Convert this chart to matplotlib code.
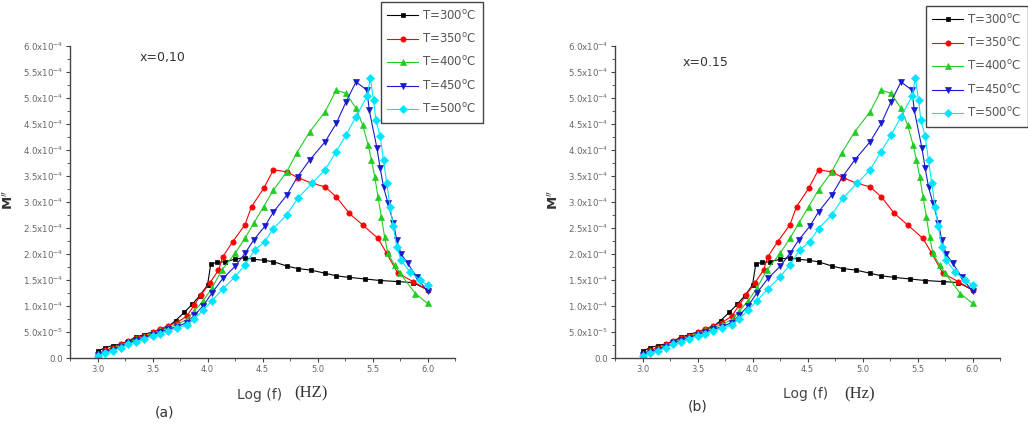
import matplotlib
matplotlib.use('Agg')
import matplotlib.pyplot as plt
from matplotlib.ticker import MultipleLocator, FuncFormatter
import numpy as np

# log(f) positions and M'' values (units of 1e-4)
x300 = [3.0, 3.07, 3.14, 3.21, 3.28, 3.35, 3.42, 3.5, 3.57, 3.64, 3.71, 3.79, 3.86, 3.93, 4.0,
        4.03, 4.09, 4.16, 4.25, 4.34, 4.41, 4.51, 4.6, 4.72, 4.82, 4.94, 5.07, 5.17, 5.29, 5.43,
        5.57, 5.73, 5.87, 6.0]
m300 = [0.13, 0.2, 0.24, 0.27, 0.33, 0.4, 0.45, 0.5, 0.54, 0.6, 0.72, 0.88, 1.03, 1.2, 1.4,
        1.81, 1.84, 1.85, 1.9, 1.93, 1.9, 1.88, 1.85, 1.77, 1.72, 1.69, 1.63, 1.58, 1.55, 1.52,
        1.49, 1.47, 1.45, 1.31]

x350 = [3.0, 3.07, 3.14, 3.21, 3.28, 3.35, 3.42, 3.5, 3.57, 3.64, 3.72, 3.81, 3.88, 3.94, 4.02,
        4.1, 4.14, 4.23, 4.34, 4.4, 4.51, 4.6, 4.72, 4.82, 4.95, 5.07, 5.17, 5.29, 5.41, 5.55,
        5.63, 5.73, 5.87, 6.0]
m350 = [0.08, 0.15, 0.2, 0.26, 0.32, 0.38, 0.43, 0.5, 0.56, 0.62, 0.68, 0.8, 1.02, 1.21, 1.44,
        1.69, 1.95, 2.24, 2.56, 2.91, 3.26, 3.62, 3.58, 3.47, 3.36, 3.29, 3.1, 2.78, 2.56, 2.3,
        2.01, 1.63, 1.47, 1.31]

x400 = [3.0, 3.07, 3.14, 3.21, 3.28, 3.35, 3.42, 3.5, 3.57, 3.64, 3.72, 3.81, 3.88, 3.96, 4.04,
        4.13, 4.25, 4.34, 4.42, 4.51, 4.6, 4.72, 4.81, 4.93, 5.07, 5.17, 5.26, 5.35, 5.41, 5.46,
        5.49, 5.52, 5.55, 5.58, 5.61, 5.64, 5.7, 5.75, 5.89, 6.0]
m400 = [0.07, 0.13, 0.18, 0.24, 0.3, 0.36, 0.41, 0.47, 0.53, 0.58, 0.64, 0.74, 0.9, 1.1, 1.34,
        1.69, 2.01, 2.3, 2.59, 2.91, 3.23, 3.58, 3.94, 4.35, 4.74, 5.15, 5.09, 4.8, 4.48, 4.1,
        3.81, 3.49, 3.1, 2.72, 2.33, 2.01, 1.79, 1.63, 1.24, 1.05]

x450 = [3.0, 3.07, 3.14, 3.21, 3.28, 3.35, 3.42, 3.5, 3.57, 3.64, 3.72, 3.81, 3.88, 3.96, 4.04,
        4.14, 4.25, 4.34, 4.42, 4.52, 4.6, 4.72, 4.82, 4.93, 5.07, 5.17, 5.26, 5.35, 5.45, 5.47,
        5.54, 5.57, 5.6, 5.64, 5.69, 5.72, 5.76, 5.82, 5.9, 6.0]
m450 = [0.06, 0.11, 0.16, 0.22, 0.28, 0.34, 0.39, 0.45, 0.5, 0.55, 0.6, 0.68, 0.82, 1.0, 1.25,
        1.53, 1.76, 2.01, 2.27, 2.53, 2.81, 3.13, 3.49, 3.81, 4.16, 4.51, 4.93, 5.31, 5.15, 4.77,
        4.04, 3.65, 3.29, 2.98, 2.6, 2.27, 2.0, 1.82, 1.56, 1.28]

x500 = [3.0, 3.07, 3.14, 3.21, 3.28, 3.35, 3.42, 3.5, 3.57, 3.64, 3.72, 3.81, 3.88, 3.96, 4.04,
        4.14, 4.25, 4.34, 4.43, 4.52, 4.6, 4.72, 4.82, 4.95, 5.07, 5.17, 5.26, 5.35, 5.45, 5.48,
        5.51, 5.53, 5.57, 5.6, 5.63, 5.66, 5.69, 5.72, 5.76, 5.84, 5.93, 6.0]
m500 = [0.04, 0.09, 0.14, 0.2, 0.26, 0.31, 0.36, 0.42, 0.47, 0.52, 0.57, 0.64, 0.75, 0.92, 1.1,
        1.33, 1.56, 1.79, 2.08, 2.24, 2.49, 2.75, 3.07, 3.36, 3.62, 3.97, 4.29, 4.64, 5.03, 5.38,
        4.96, 4.58, 4.26, 3.8, 3.36, 2.9, 2.53, 2.14, 1.88, 1.66, 1.5, 1.4]

temps = ['300', '350', '400', '450', '500']
xs = [x300, x350, x400, x450, x500]
ms = [m300, m350, m400, m450, m500]
colors = ['black', 'red', '#22cc22', '#1a1acc', '#00e5ff']
markers = ['s', 'o', '^', 'v', 'D']
msizes = [3.5, 3.8, 4.5, 4.5, 3.8]

panels = ['(a)', '(b)']
compositions = ['x=0,10', 'x=0.15']
units = ['(HZ)', '(Hz)']


def ytick_fmt(v, pos):
    if v < -1e-12:
        return ''
    if abs(v) < 1e-12:
        return '0.0'
    e = int(np.floor(np.log10(v) + 1e-9))
    return '%.1fx10$^{%d}$' % (v / 10 ** e, e)


W, H = 1028, 446
fig = plt.figure(figsize=(W / 100, H / 100), dpi=100)

lefts = [70, 615]
comp_pos = [(140, 57), (683, 63)]
leg_pos = [(381, 2), (926, 6)]
lab_pos = [(237, 395), (783, 394)]
unit_pos = [(294, 393), (844, 394)]
pan_pos = [(155, 412), (688, 406)]

for i in range(2):
    ax = fig.add_axes([lefts[i] / W, 88 / H, 385 / W, 312 / H])
    handles = []
    for t, x, m, c, mk, s in zip(temps, xs, ms, colors, markers, msizes):
        h, = ax.plot(x, np.array(m) * 1e-4, color=c, marker=mk, markersize=s,
                     linewidth=0.8, markeredgewidth=0.5, label='T=%s$^\\mathrm{o}$C' % t)
        handles.append(h)

    ax.set_xlim(2.75, 6.25)
    ax.set_ylim(0, 6.0e-4)
    ax.xaxis.set_major_locator(MultipleLocator(0.5))
    ax.xaxis.set_minor_locator(MultipleLocator(0.25))
    ax.yaxis.set_major_locator(MultipleLocator(0.5e-4))
    ax.yaxis.set_minor_locator(MultipleLocator(0.25e-4))
    ax.yaxis.set_major_formatter(FuncFormatter(ytick_fmt))
    ax.xaxis.set_major_formatter(FuncFormatter(lambda v, p: '%.1f' % v))
    for sp in ['top', 'right']:
        ax.spines[sp].set_visible(False)
    for sp in ['left', 'bottom']:
        ax.spines[sp].set_color('#444444')
        ax.spines[sp].set_linewidth(1.0)
    ax.tick_params(which='major', direction='out', length=3, width=0.8, color='#444444',
                   labelsize=6, labelcolor='#666666', pad=2)
    ax.tick_params(which='minor', direction='out', length=2, width=0.6, color='#444444')
    ax.tick_params(axis='y', labelsize=6.2)

    fig.text(comp_pos[i][0] / W, 1 - comp_pos[i][1] / H, compositions[i], fontsize=9,
             color='#333333', va='center')
    fig.text(lab_pos[i][0] / W, 1 - lab_pos[i][1] / H, 'Log (f)', fontsize=10,
             color='#444444', va='center')
    fig.text(unit_pos[i][0] / W, 1 - unit_pos[i][1] / H, units[i], fontsize=12,
             family='Liberation Serif', color='#333333', va='center')
    fig.text(pan_pos[i][0] / W, 1 - pan_pos[i][1] / H, panels[i], fontsize=10,
             color='#333333', va='center')
    fig.text((lefts[i] - 61) / W, 1 - 200 / H, "M$''$", fontsize=9.5, rotation=90,
             color='#333333', va='center', ha='center', fontweight='bold')

    leg = fig.legend(handles=handles, loc='upper left',
                     bbox_to_anchor=(leg_pos[i][0] / W, 1 - leg_pos[i][1] / H),
                     borderaxespad=0, fontsize=8.5, labelspacing=0.8, handlelength=2.6,
                     handletextpad=0.3, borderpad=0.55, fancybox=False, framealpha=1,
                     edgecolor='#444444', labelcolor='#555555')
    leg.get_frame().set_linewidth(1.0)

fig.savefig('out.png', dpi=100)
